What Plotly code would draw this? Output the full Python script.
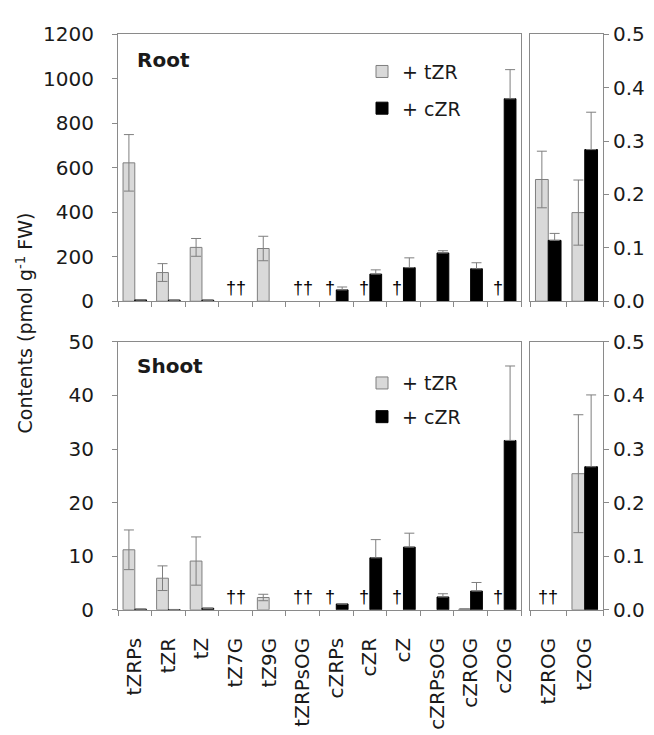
import plotly.graph_objects as go

# ---------------- data ----------------
cats_main = ["tZRPs", "tZR", "tZ", "tZ7G", "tZ9G", "tZRPsOG", "cZRPs", "cZR", "cZ",
             "cZRPsOG", "cZROG", "cZOG"]
cats_og = ["tZROG", "tZOG"]

N = None  # not detected / no error bar drawn

root_tzr = [622, 129, 242, N, 237, N, N, N, N, N, N, N]
root_tzr_err = [127, 40, 40, N, 55, N, N, N, N, N, N, N]
root_czr = [6, 5, 5, N, N, N, 51, 122, 151, 217, 146, 910]
root_czr_err = [N, N, N, N, N, N, 13, 19, 44, 10, 27, 131]

root_og_tzr = [0.228, 0.166]
root_og_tzr_err = [0.053, 0.061]
root_og_czr = [0.114, 0.284]
root_og_czr_err = [0.013, 0.070]

shoot_tzr = [11.2, 5.9, 9.1, N, 2.3, N, N, N, N, N, 0.15, N]
shoot_tzr_err = [3.7, 2.3, 4.5, N, 0.6, N, N, N, N, N, N, N]
shoot_czr = [0.12, 0.06, 0.3, N, N, N, 1.1, 9.7, 11.7, 2.4, 3.5, 31.6]
shoot_czr_err = [N, N, N, N, N, N, N, 3.4, 2.6, 0.6, 1.6, 13.9]

shoot_og_tzr = [N, 0.254]
shoot_og_tzr_err = [N, 0.110]
shoot_og_czr = [N, 0.267]
shoot_og_czr_err = [N, 0.134]

# not-detected marks: category, text, slot ("both" centred or "tZR" left slot)
root_dagger_cats = ["tZ7G", "tZRPsOG", "cZRPs", "cZR", "cZ", "cZOG"]
root_dagger_text = ["††", "††", "†", "†", "†", "†"]
root_dagger_slot = ["both", "both", "tZR", "tZR", "tZR", "tZR"]
shoot_dagger_cats = ["tZ7G", "tZRPsOG", "cZRPs", "cZR", "cZ", "cZOG"]
shoot_dagger_text = ["††", "††", "†", "†", "†", "†"]
shoot_dagger_slot = ["both", "both", "tZR", "tZR", "tZR", "tZR"]
shoot_og_dagger_cats = ["tZROG"]
shoot_og_dagger_text = ["††"]
shoot_og_dagger_slot = ["both"]

# ---------------- style ----------------
W, H = 654, 735
GREY_FILL = "#d9d9d9"
EDGE = "#7f7f7f"
AX = "#8a8a8a"
TXT = "#1a1a1a"
FONT = "DejaVu Sans, Liberation Sans, Arial, sans-serif"
FS = 20

fig = go.Figure()


def minus_zero(errs):
    return [0 if e is not None else None for e in errs]


def add_pair(x, g, ge, b, be, xa, ya, legend, show):
    fig.add_trace(go.Bar(
        x=x, y=g, name="+ tZR", xaxis=xa, yaxis=ya,
        marker=dict(color=GREY_FILL, line=dict(color=EDGE, width=1)),
        error_y=dict(type="data", array=ge, symmetric=True, color=EDGE,
                     thickness=1, width=5),
        legend=legend, legendgroup="t" + legend, showlegend=show))
    fig.add_trace(go.Bar(
        x=x, y=b, name="+ cZR", xaxis=xa, yaxis=ya,
        marker=dict(color="#000000", line=dict(color="#000000", width=1)),
        error_y=dict(type="data", array=be, arrayminus=minus_zero(be),
                     symmetric=False, color=EDGE, thickness=1, width=5),
        legend=legend, legendgroup="c" + legend, showlegend=show))


add_pair(cats_main, root_tzr, root_tzr_err, root_czr, root_czr_err, "x", "y", "legend", True)
add_pair(cats_og, root_og_tzr, root_og_tzr_err, root_og_czr, root_og_czr_err, "x2", "y2", "legend", False)
add_pair(cats_main, shoot_tzr, shoot_tzr_err, shoot_czr, shoot_czr_err, "x3", "y3", "legend2", True)
add_pair(cats_og, shoot_og_tzr, shoot_og_tzr_err, shoot_og_czr, shoot_og_czr_err, "x4", "y4", "legend2", False)

annotations = []


def add_daggers(cats, texts, slots, xref, yref):
    for c, t, s in zip(cats, texts, slots):
        annotations.append(dict(
            x=c, y=0, xref=xref, yref=yref, text=t, showarrow=False,
            xanchor="center", yanchor="bottom",
            xshift=-6 if s == "tZR" else 0, yshift=1,
            font=dict(family="Liberation Sans, Arial, sans-serif", size=18, color="#000000")))


add_daggers(root_dagger_cats, root_dagger_text, root_dagger_slot, "x", "y")
add_daggers(shoot_dagger_cats, shoot_dagger_text, shoot_dagger_slot, "x3", "y3")
add_daggers(shoot_og_dagger_cats, shoot_og_dagger_text, shoot_og_dagger_slot, "x4", "y4")

annotations += [
    dict(text="<b>Root</b>", x=135 / W, y=1 - 50 / H, xref="paper", yref="paper",
         xanchor="left", yanchor="middle", showarrow=False,
         font=dict(family=FONT, size=20, color=TXT)),
    dict(text="<b>Shoot</b>", x=135 / W, y=1 - 366 / H, xref="paper", yref="paper",
         xanchor="left", yanchor="middle", showarrow=False,
         font=dict(family=FONT, size=20, color=TXT)),
    dict(text="Contents (pmol g<sup>-1</sup> FW)", x=25 / W, y=1 - 322 / H,
         xref="paper", yref="paper", xanchor="center", yanchor="middle",
         textangle=-90, showarrow=False,
         font=dict(family=FONT, size=19, color=TXT)),
]

xmain = [118 / W, 521 / W]
xog = [530 / W, 603 / W]
ytop = [1 - 299 / H, 1 - 23 / H]
ybot = [1 - 618 / H, 1 - 341 / H]

common_x = dict(type="category", tickson="boundaries", ticks="outside", ticklen=5,
                tickcolor=AX, showline=True, linecolor=AX, linewidth=1, mirror=True,
                showgrid=False, zeroline=False,
                tickfont=dict(family=FONT, size=FS, color=TXT))
common_y = dict(ticks="outside", ticklen=5, tickcolor=AX, showline=True, linecolor=AX,
                linewidth=1, mirror=True, showgrid=False, zeroline=False,
                tickfont=dict(family=FONT, size=FS, color=TXT))

fig.update_layout(
    width=W, height=H, margin=dict(l=0, r=0, t=0, b=0),
    paper_bgcolor="white", plot_bgcolor="white",
    barmode="group", bargap=0.3, bargroupgap=0,
    font=dict(family=FONT, size=FS, color=TXT),
    xaxis=dict(common_x, domain=xmain, anchor="y", categoryarray=cats_main,
               categoryorder="array", showticklabels=False),
    yaxis=dict(common_y, domain=ytop, anchor="x", range=[0, 1200], dtick=200,
               ticklabelstandoff=14),
    xaxis2=dict(common_x, domain=xog, anchor="y2", categoryarray=cats_og,
                categoryorder="array", showticklabels=False),
    yaxis2=dict(common_y, domain=ytop, anchor="x2", side="right", range=[0, 0.5],
                dtick=0.1, tickformat=".1f"),
    xaxis3=dict(common_x, domain=xmain, anchor="y3", categoryarray=cats_main,
                categoryorder="array", tickangle=-90, ticklabelstandoff=19),
    yaxis3=dict(common_y, domain=ybot, anchor="x3", range=[0, 50], dtick=10,
                ticklabelstandoff=14),
    xaxis4=dict(common_x, domain=xog, anchor="y4", categoryarray=cats_og,
                categoryorder="array", tickangle=-90, ticklabelstandoff=19),
    yaxis4=dict(common_y, domain=ybot, anchor="x4", side="right", range=[0, 0.5],
                dtick=0.1, tickformat=".1f"),
    legend=dict(x=362 / W, y=1 - 42 / H, xanchor="left", yanchor="top",
                bgcolor="rgba(0,0,0,0)", traceorder="grouped", tracegroupgap=9,
                font=dict(family=FONT, size=19, color=TXT)),
    legend2=dict(x=362 / W, y=1 - 364 / H, xanchor="left", yanchor="top",
                 bgcolor="rgba(0,0,0,0)", traceorder="grouped", tracegroupgap=6,
                 font=dict(family=FONT, size=19, color=TXT)),
    annotations=annotations,
)

fig.write_html("out.html")
